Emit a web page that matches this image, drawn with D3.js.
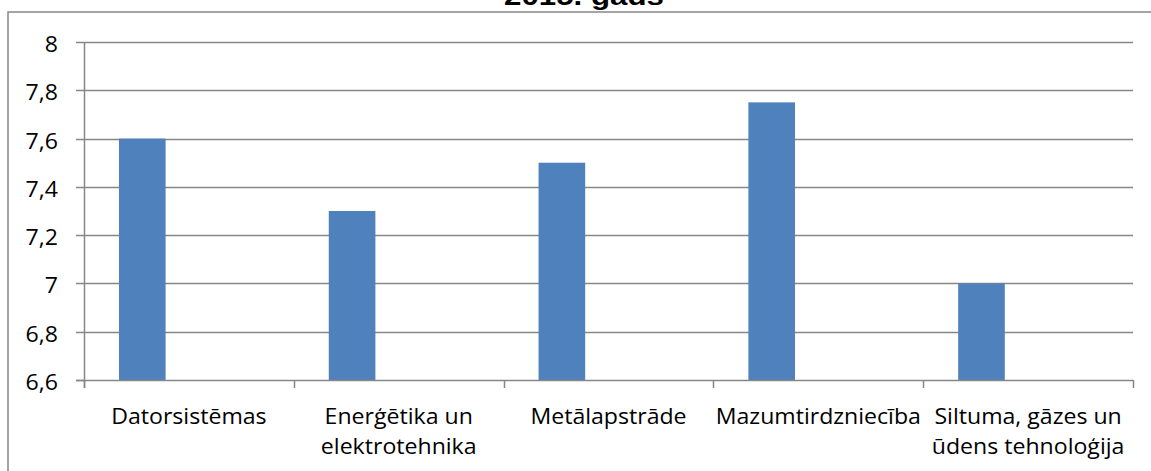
<!DOCTYPE html>
<html><head><meta charset="utf-8">
<script src="https://cdn.jsdelivr.net/npm/d3@7"></script>
<style>
html,body{margin:0;padding:0;background:#fff;overflow:hidden}
svg{display:block}
</style></head>
<body>
<svg id="chart" width="1151" height="471"></svg>
<script>
const title = "2015. gads";
const categories = ["Datorsistēmas", "Enerģētika un elektrotehnika", "Metālapstrāde", "Mazumtirdzniecība", "Siltuma, gāzes un ūdens tehnoloģija"];
const categoryLines = [["Datorsistēmas"], ["Enerģētika un", "elektrotehnika"], ["Metālapstrāde"], ["Mazumtirdzniecība"], ["Siltuma, gāzes un", "ūdens tehnoloģija"]];
const values = [7.6, 7.3, 7.5, 7.75, 7.0];
const yTickValues = [6.6, 6.8, 7.0, 7.2, 7.4, 7.6, 7.8, 8.0];
const yTickLabels = ["6,6", "6,8", "7", "7,2", "7,4", "7,6", "7,8", "8"];

(function () {
const svg = d3.select("#chart");
const pL = 84, pR = 1133, pT = 42, pB = 380;
const gray = "#878787";
const sx = 1.1; // horizontal stretch of the reference picture
const font = "'Open Sans', sans-serif";
const fs = 21;

// chart frame
svg.append("rect").attr("x", 8).attr("y", 12).attr("width", 1160).attr("height", 480)
  .attr("fill", "none").attr("stroke", gray).attr("stroke-width", 1.5);

const x = d3.scaleBand().domain(categories).range([pL, pR]).padding(0);
const y = d3.scaleLinear().domain([6.6, 8]).range([pB, pT]);

// gridlines
svg.append("g").selectAll("line").data(yTickValues.slice(1)).join("line")
  .attr("x1", pL).attr("x2", pR)
  .attr("y1", d => Math.round(y(d)) + 0.5).attr("y2", d => Math.round(y(d)) + 0.5)
  .attr("stroke", gray).attr("stroke-width", 1.5);

// y tick marks
svg.append("g").selectAll("line").data(yTickValues).join("line")
  .attr("x1", pL - 8).attr("x2", pL)
  .attr("y1", d => Math.round(y(d)) + 0.5).attr("y2", d => Math.round(y(d)) + 0.5)
  .attr("stroke", gray).attr("stroke-width", 1.5);

// bars
const bw = x.bandwidth();
svg.append("g").selectAll("rect").data(values).join("rect")
  .attr("x", (d, i) => x(categories[i]) + bw * 0.75 / 4.5)
  .attr("width", bw / 4.5)
  .attr("y", d => y(d))
  .attr("height", d => y(6.6) - y(d))
  .attr("fill", "#4F81BD");

// axes lines
svg.append("line").attr("x1", pL - 8).attr("x2", pR).attr("y1", pB + 0.5).attr("y2", pB + 0.5)
  .attr("stroke", gray).attr("stroke-width", 1.5);
svg.append("line").attr("x1", pL + 0.5).attr("x2", pL + 0.5).attr("y1", pT).attr("y2", pB + 8)
  .attr("stroke", gray).attr("stroke-width", 1.5);
const xTicks = categories.map(c => x(c)).concat([pR]);
svg.append("g").selectAll("line").data(xTicks).join("line")
  .attr("x1", d => Math.round(d) + 0.5).attr("x2", d => Math.round(d) + 0.5)
  .attr("y1", pB).attr("y2", pB + 8)
  .attr("stroke", gray).attr("stroke-width", 1.5);

// y tick labels
svg.append("g").selectAll("text").data(yTickValues).join("text")
  .attr("transform", d => `translate(58,${y(d) + 1.5}) scale(${sx},1)`)
  .attr("text-anchor", "end").attr("dominant-baseline", "central")
  .attr("font-family", font).attr("font-size", fs).attr("fill", "#000")
  .text((d, i) => yTickLabels[i]);

// category labels
const cl = svg.append("g").selectAll("g").data(categories).join("g")
  .attr("transform", c => `translate(${x(c) + bw / 2},0)`);
cl.each(function (c, i) {
  d3.select(this).selectAll("text").data(categoryLines[i]).join("text")
    .attr("transform", (l, j) => `translate(0,${424 + j * 30}) scale(${sx},1)`)
    .attr("text-anchor", "middle")
    .attr("font-family", font).attr("font-size", fs).attr("fill", "#000")
    .text(l => l);
});

// title
svg.append("text")
  .attr("transform", `translate(584,5) scale(1.18,1)`)
  .attr("text-anchor", "middle")
  .attr("font-family", "'Liberation Sans', Arial, sans-serif").attr("font-weight", "bold")
  .attr("font-size", 26.5).attr("fill", "#000")
  .text(title);
})();
</script>
</body></html>
